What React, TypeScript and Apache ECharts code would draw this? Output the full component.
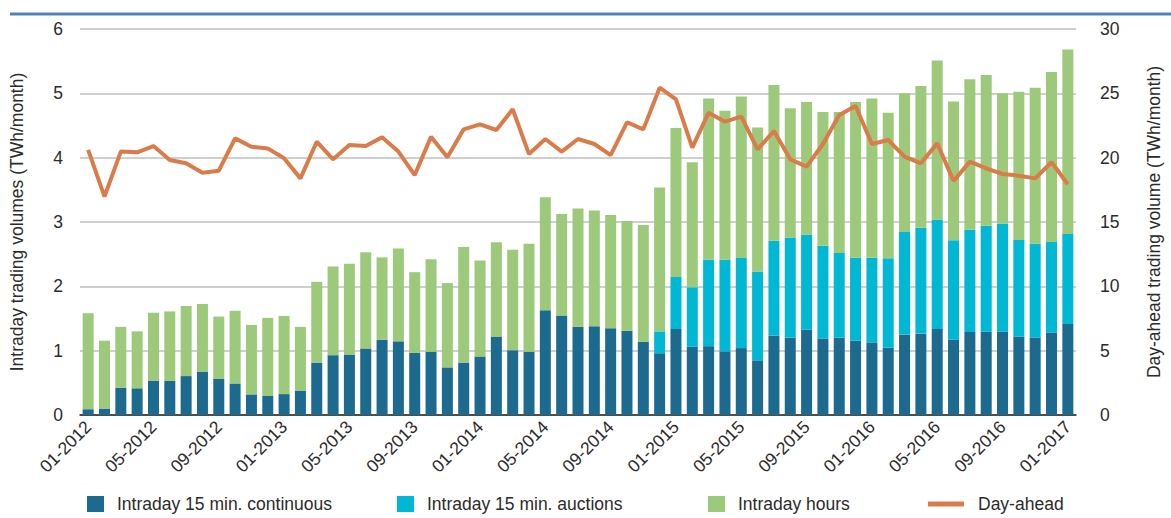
import React, { useEffect, useRef } from "react";
import * as echarts from "echarts";

const years = [2012, 2013, 2014, 2015, 2016];
const categories: string[] = [];
for (const y of years) for (let m = 1; m <= 12; m++) categories.push(`${String(m).padStart(2, "0")}-${y}`);
categories.push("01-2017");

const continuous = [0.09,0.10,0.425,0.415,0.535,0.53,0.605,0.675,0.56,0.49,0.32,0.295,0.325,0.38,0.815,0.93,0.94,1.035,1.17,1.145,0.965,0.985,0.74,0.815,0.91,1.22,1.005,0.985,1.63,1.545,1.37,1.38,1.35,1.31,1.14,0.96,1.335,1.06,1.07,0.99,1.04,0.85,1.235,1.20,1.33,1.19,1.20,1.155,1.125,1.045,1.25,1.265,1.335,1.17,1.29,1.295,1.295,1.22,1.205,1.28,1.415];

const auctions = [0,0,0,0,0,0,0,0,0,0,0,0,0,0,0,0,0,0,0,0,0,0,0,0,0,0,0,0,0,0,0,0,0,0,0,0.34,0.81,0.925,1.345,1.425,1.40,1.38,1.475,1.56,1.47,1.44,1.32,1.29,1.32,1.39,1.595,1.645,1.705,1.545,1.59,1.645,1.68,1.50,1.455,1.41,1.40];

const hours = [1.49,1.055,0.945,0.885,1.055,1.08,1.09,1.05,0.97,1.13,1.08,1.215,1.215,0.99,1.255,1.38,1.41,1.495,1.28,1.445,1.255,1.435,1.31,1.795,1.49,1.465,1.565,1.675,1.755,1.58,1.84,1.80,1.76,1.705,1.815,2.235,2.315,1.945,2.505,2.315,2.51,2.24,2.42,2.01,2.065,2.08,2.19,2.42,2.475,2.265,2.155,2.205,2.47,2.16,2.34,2.345,2.025,2.305,2.425,2.64,2.865];

const dayAhead = [20.6,16.97,20.47,20.42,20.9,19.82,19.56,18.83,18.99,21.5,20.85,20.72,19.95,18.39,21.24,19.87,20.98,20.9,21.58,20.47,18.65,21.63,20.03,22.2,22.59,22.15,23.76,20.28,21.45,20.47,21.45,21.06,20.2,22.75,22.2,25.44,24.53,20.78,23.5,22.8,23.19,20.65,22.07,19.87,19.3,21.06,23.32,24.02,21.06,21.37,20.08,19.56,21.11,18.19,19.69,19.17,18.73,18.6,18.39,19.64,17.93];

const FONT = "'Liberation Sans', Arial, sans-serif";
const TXT = "#2b2b2b";
const FS = 17.5;

export default function App() {
  const ref = useRef<HTMLDivElement>(null);
  useEffect(() => {
    if (!ref.current) return;
    const chart = echarts.init(ref.current, undefined, { renderer: "svg" });
    const legendBase = {
      top: 495,
      padding: 0,
      itemWidth: 17,
      itemHeight: 16,
      icon: "rect",
      textStyle: { fontFamily: FONT, fontSize: FS, color: TXT, padding: [0, 0, 0, 8] },
      selectedMode: false,
    };
    chart.setOption({
      animation: false,
      textStyle: { fontFamily: FONT },
      graphic: [
        { type: "line", shape: { x1: 10, y1: 14, x2: 1171, y2: 14 }, style: { stroke: "#4f81bd", lineWidth: 3 } },
      ],
      legend: [
        { ...legendBase, left: 87, data: ["Intraday 15 min. continuous"] },
        { ...legendBase, left: 397, data: ["Intraday 15 min. auctions"] },
        { ...legendBase, left: 708, data: ["Intraday hours"] },
        { ...legendBase, left: 928, itemWidth: 36, itemHeight: 5, data: ["Day-ahead"], textStyle: { ...legendBase.textStyle, padding: [0, 0, 0, 9] } },
      ],
      grid: { left: 79, right: 83, top: 29, bottom: 103, containLabel: false },
      xAxis: {
        type: "category",
        data: categories,
        boundaryGap: true,
        axisLine: { show: true, lineStyle: { color: "#222", width: 1.5 } },
        axisTick: { show: false },
        axisLabel: { interval: 3, rotate: 45, fontSize: FS, color: TXT, fontFamily: FONT, margin: 9 },
      },
      yAxis: [
        {
          type: "value", min: 0, max: 6, interval: 1,
          name: "Intraday trading volumes (TWh/month)",
          nameLocation: "middle", nameGap: 54, nameRotate: 90,
          nameTextStyle: { fontSize: FS, color: TXT, fontFamily: FONT },
          axisLine: { show: false }, axisTick: { show: false },
          axisLabel: { fontSize: FS, color: TXT, fontFamily: FONT, margin: 17 },
          splitLine: { lineStyle: { color: "#bfbfbf", width: 1.5 } },
        },
        {
          type: "value", min: 0, max: 30, interval: 5,
          name: "Day-ahead trading volume (TWh/month)",
          nameLocation: "middle", nameGap: 69, nameRotate: 90,
          nameTextStyle: { fontSize: FS, color: TXT, fontFamily: FONT },
          axisLine: { show: false }, axisTick: { show: false },
          axisLabel: { fontSize: FS, color: TXT, fontFamily: FONT, margin: 24 },
          splitLine: { show: false },
        },
      ],
      series: [
        { name: "Intraday 15 min. continuous", type: "bar", stack: "id", data: continuous, barWidth: 11, itemStyle: { color: "#1c6a8e" } },
        { name: "Intraday 15 min. auctions", type: "bar", stack: "id", data: auctions, barWidth: 11, itemStyle: { color: "#00b8d4" } },
        { name: "Intraday hours", type: "bar", stack: "id", data: hours, barWidth: 11, itemStyle: { color: "#9dc97b" } },
        { name: "Day-ahead", type: "line", yAxisIndex: 1, data: dayAhead, showSymbol: false, symbol: "none", lineStyle: { color: "#d97c4a", width: 4 }, itemStyle: { color: "#d97c4a" } },
      ],
    });
    return () => chart.dispose();
  }, []);
  return <div ref={ref} style={{ width: 1171, height: 518, position: "absolute", left: 0, top: 0 }} />;
}
